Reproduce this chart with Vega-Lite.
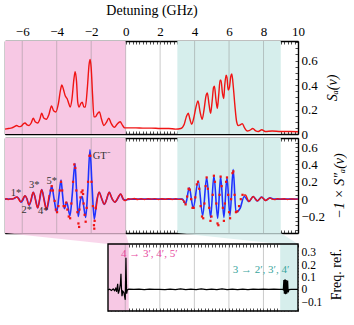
{
  "$schema": "https://vega.github.io/schema/vega-lite/v6.json",
  "padding": {"left": 1, "top": 3, "right": 0, "bottom": 0},
  "config": {
    "view": {"stroke": null},
    "font": "Liberation Serif, serif",
    "axis": {
      "domainColor": "#000", "domainWidth": 1.4,
      "tickColor": "#000", "tickWidth": 0.7, "tickSize": -3,
      "grid": false,
      "labelFont": "Liberation Serif, serif", "labelFontSize": 13, "labelColor": "#000",
      "titleFont": "Liberation Serif, serif", "titleFontSize": 14, "titleFontWeight": "normal", "titleColor": "#000",
      "zindex": 1, "labelOverlap": false, "labelFlush": false, "labelBound": false
    }
  },
  "datasets": {
    "regions": [{"r": "pink", "x": -7, "x2": 0}, {"r": "teal", "x": 3, "x2": 9}],
    "bregions": [{"r": "pink", "x": 0, "x2": 1.2}, {"r": "teal", "x": 9.97, "x2": 11}],
    "grid": [{"g": -6}, {"g": -4}, {"g": -2}, {"g": 0}, {"g": 2}, {"g": 4}, {"g": 6}, {"g": 8}],
    "bgrid": [{"g": 1}, {"g": 3}, {"g": 5}, {"g": 7}, {"g": 9}],
    "fans": [
      {"r": "pink", "y": 0.4586, "x": -5.963, "x2": 1.019}, {"r": "pink", "y": 0.37, "x": 0, "x2": 1.2},
      {"r": "teal", "y": 0.4586, "x": 4.015, "x2": 10.002}, {"r": "teal", "y": 0.37, "x": 9.97, "x2": 11}
    ],
    "top": [
      {"x": -7.0, "y": 0.04}, {"x": -6.8, "y": 0.045}, {"x": -6.6, "y": 0.05}, {"x": -6.45, "y": 0.06}, {"x": -6.32, "y": 0.07}, {"x": -6.2, "y": 0.06}, {"x": -6.05, "y": 0.065}, {"x": -5.92, "y": 0.085}, {"x": -5.84, "y": 0.09}, {"x": -5.72, "y": 0.075}, {"x": -5.6, "y": 0.07}, {"x": -5.48, "y": 0.09}, {"x": -5.36, "y": 0.13}, {"x": -5.25, "y": 0.1}, {"x": -5.1, "y": 0.09}, {"x": -4.98, "y": 0.12}, {"x": -4.87, "y": 0.17}, {"x": -4.75, "y": 0.13}, {"x": -4.6, "y": 0.12}, {"x": -4.45, "y": 0.16}, {"x": -4.3, "y": 0.23}, {"x": -4.18, "y": 0.19}, {"x": -4.05, "y": 0.18}, {"x": -3.9, "y": 0.25}, {"x": -3.78, "y": 0.36}, {"x": -3.7, "y": 0.4}, {"x": -3.6, "y": 0.36}, {"x": -3.5, "y": 0.31}, {"x": -3.4, "y": 0.29}, {"x": -3.3, "y": 0.25}, {"x": -3.22, "y": 0.22}, {"x": -3.12, "y": 0.28}, {"x": -3.0, "y": 0.45}, {"x": -2.93, "y": 0.51}, {"x": -2.85, "y": 0.43}, {"x": -2.78, "y": 0.26}, {"x": -2.7, "y": 0.22}, {"x": -2.6, "y": 0.25}, {"x": -2.52, "y": 0.26}, {"x": -2.42, "y": 0.22}, {"x": -2.34, "y": 0.22}, {"x": -2.22, "y": 0.38}, {"x": -2.12, "y": 0.57}, {"x": -2.06, "y": 0.61}, {"x": -2.0, "y": 0.54}, {"x": -1.92, "y": 0.32}, {"x": -1.84, "y": 0.14}, {"x": -1.76, "y": 0.14}, {"x": -1.62, "y": 0.17}, {"x": -1.52, "y": 0.18}, {"x": -1.4, "y": 0.12}, {"x": -1.26, "y": 0.07}, {"x": -1.1, "y": 0.1}, {"x": -0.98, "y": 0.13}, {"x": -0.85, "y": 0.09}, {"x": -0.65, "y": 0.055}, {"x": -0.5, "y": 0.08}, {"x": -0.32, "y": 0.1}, {"x": -0.18, "y": 0.07}, {"x": -0.05, "y": 0.05}, {"x": 0.2, "y": 0.05}, {"x": 0.6, "y": 0.05}, {"x": 1.0, "y": 0.048}, {"x": 1.5, "y": 0.048}, {"x": 2.0, "y": 0.045}, {"x": 2.5, "y": 0.045}, {"x": 2.9, "y": 0.04}, {"x": 3.2, "y": 0.045}, {"x": 3.4, "y": 0.08}, {"x": 3.52, "y": 0.14}, {"x": 3.63, "y": 0.17}, {"x": 3.73, "y": 0.12}, {"x": 3.83, "y": 0.08}, {"x": 3.95, "y": 0.13}, {"x": 4.08, "y": 0.22}, {"x": 4.2, "y": 0.27}, {"x": 4.32, "y": 0.18}, {"x": 4.44, "y": 0.12}, {"x": 4.55, "y": 0.2}, {"x": 4.66, "y": 0.31}, {"x": 4.74, "y": 0.335}, {"x": 4.84, "y": 0.24}, {"x": 4.93, "y": 0.17}, {"x": 5.02, "y": 0.27}, {"x": 5.1, "y": 0.38}, {"x": 5.15, "y": 0.39}, {"x": 5.24, "y": 0.28}, {"x": 5.32, "y": 0.21}, {"x": 5.4, "y": 0.32}, {"x": 5.48, "y": 0.44}, {"x": 5.53, "y": 0.44}, {"x": 5.62, "y": 0.33}, {"x": 5.69, "y": 0.29}, {"x": 5.75, "y": 0.4}, {"x": 5.83, "y": 0.48}, {"x": 5.88, "y": 0.46}, {"x": 5.95, "y": 0.36}, {"x": 6.02, "y": 0.38}, {"x": 6.1, "y": 0.47}, {"x": 6.16, "y": 0.49}, {"x": 6.25, "y": 0.38}, {"x": 6.34, "y": 0.23}, {"x": 6.44, "y": 0.1}, {"x": 6.53, "y": 0.07}, {"x": 6.65, "y": 0.075}, {"x": 6.77, "y": 0.085}, {"x": 6.9, "y": 0.05}, {"x": 7.05, "y": 0.025}, {"x": 7.2, "y": 0.03}, {"x": 7.38, "y": 0.045}, {"x": 7.55, "y": 0.025}, {"x": 7.7, "y": 0.02}, {"x": 7.9, "y": 0.035}, {"x": 8.1, "y": 0.02}, {"x": 8.5, "y": 0.025}, {"x": 9.0, "y": 0.02}, {"x": 9.5, "y": 0.02}, {"x": 10.0, "y": 0.018}
    ],
    "blue": [
      {"x": -7, "y": 0}, {"x": -6.5, "y": 0.005}, {"x": -6.38, "y": 0.02}, {"x": -6.3, "y": 0.025}, {"x": -6.18, "y": 0.0}, {"x": -6.07, "y": -0.035}, {"x": -5.96, "y": -0.01}, {"x": -5.84, "y": 0.04}, {"x": -5.72, "y": 0.0}, {"x": -5.6, "y": -0.07}, {"x": -5.48, "y": -0.01}, {"x": -5.36, "y": 0.08}, {"x": -5.23, "y": 0.0}, {"x": -5.1, "y": -0.1}, {"x": -4.98, "y": 0.0}, {"x": -4.87, "y": 0.11}, {"x": -4.73, "y": 0.0}, {"x": -4.58, "y": -0.12}, {"x": -4.44, "y": 0.0}, {"x": -4.29, "y": 0.15}, {"x": -4.15, "y": 0.0}, {"x": -4.0, "y": -0.15}, {"x": -3.88, "y": 0.02}, {"x": -3.75, "y": 0.22}, {"x": -3.66, "y": 0.05}, {"x": -3.56, "y": -0.11}, {"x": -3.42, "y": -0.035}, {"x": -3.23, "y": -0.19}, {"x": -3.1, "y": 0.05}, {"x": -2.94, "y": 0.41}, {"x": -2.85, "y": 0.1}, {"x": -2.75, "y": -0.2}, {"x": -2.63, "y": -0.02}, {"x": -2.52, "y": 0.03}, {"x": -2.42, "y": -0.1}, {"x": -2.32, "y": -0.21}, {"x": -2.2, "y": 0.1}, {"x": -2.07, "y": 0.57}, {"x": -1.95, "y": 0.15}, {"x": -1.82, "y": -0.23}, {"x": -1.68, "y": -0.02}, {"x": -1.53, "y": 0.08}, {"x": -1.38, "y": 0.0}, {"x": -1.24, "y": -0.06}, {"x": -1.1, "y": 0.0}, {"x": -0.95, "y": 0.08}, {"x": -0.78, "y": 0.0}, {"x": -0.62, "y": -0.035}, {"x": -0.45, "y": 0.01}, {"x": -0.29, "y": 0.06}, {"x": -0.15, "y": 0.0}, {"x": 0, "y": -0.01}, {"x": 0.3, "y": 0}, {"x": 3.3, "y": 0}, {"x": 3.48, "y": -0.054}, {"x": 3.69, "y": 0.13}, {"x": 3.92, "y": -0.1}, {"x": 4.21, "y": 0.21}, {"x": 4.47, "y": -0.19}, {"x": 4.7, "y": 0.25}, {"x": 4.93, "y": -0.21}, {"x": 5.12, "y": 0.27}, {"x": 5.34, "y": -0.22}, {"x": 5.51, "y": 0.26}, {"x": 5.7, "y": -0.21}, {"x": 5.88, "y": 0.25}, {"x": 6.05, "y": -0.19}, {"x": 6.24, "y": 0.34}, {"x": 6.4, "y": -0.15}, {"x": 6.63, "y": -0.11}, {"x": 6.88, "y": 0.03}, {"x": 7.15, "y": -0.027}, {"x": 7.4, "y": 0.03}, {"x": 7.64, "y": -0.02}, {"x": 7.89, "y": 0.023}, {"x": 8.12, "y": -0.015}, {"x": 8.37, "y": 0.015}, {"x": 8.6, "y": 0}, {"x": 10, "y": 0}
    ],
    "redline": [
      {"s": "a", "x": -7, "y": 0}, {"s": "a", "x": -6.9, "y": 0.005}, {"s": "a", "x": -6.8, "y": -0.005}, {"s": "a", "x": -6.7, "y": 0.003}, {"s": "a", "x": -6.6, "y": 0.0}, {"s": "a", "x": -6.5, "y": 0.008}, {"s": "a", "x": -6.4, "y": 0.02}, {"s": "a", "x": -6.32, "y": 0.025}, {"s": "a", "x": -6.22, "y": 0.005}, {"s": "a", "x": -6.1, "y": -0.03}, {"s": "a", "x": -6.02, "y": -0.02}, {"s": "a", "x": -5.92, "y": 0.02}, {"s": "a", "x": -5.84, "y": 0.04}, {"s": "a", "x": -5.74, "y": 0.01}, {"s": "a", "x": -5.62, "y": -0.065}, {"s": "a", "x": -5.52, "y": -0.03}, {"s": "a", "x": -5.44, "y": 0.04}, {"s": "a", "x": -5.36, "y": 0.08}, {"s": "a", "x": -5.28, "y": 0.04}, {"s": "a", "x": -5.18, "y": -0.06}, {"s": "a", "x": -5.1, "y": -0.1}, {"s": "a", "x": -5.02, "y": -0.03}, {"s": "a", "x": -4.94, "y": 0.07}, {"s": "a", "x": -4.87, "y": 0.11}, {"s": "a", "x": -4.8, "y": 0.06}, {"s": "a", "x": -4.7, "y": -0.05}, {"s": "a", "x": -4.6, "y": -0.12}, {"s": "a", "x": -4.52, "y": -0.06}, {"s": "a", "x": -4.44, "y": 0.05},
      {"s": "b", "x": -1.72, "y": -0.12}, {"s": "b", "x": -1.62, "y": 0.03}, {"s": "b", "x": -1.53, "y": 0.08}, {"s": "b", "x": -1.45, "y": 0.04}, {"s": "b", "x": -1.36, "y": -0.01}, {"s": "b", "x": -1.24, "y": -0.06}, {"s": "b", "x": -1.15, "y": -0.03}, {"s": "b", "x": -1.05, "y": 0.04}, {"s": "b", "x": -0.95, "y": 0.08}, {"s": "b", "x": -0.86, "y": 0.04}, {"s": "b", "x": -0.74, "y": -0.01}, {"s": "b", "x": -0.62, "y": -0.035}, {"s": "b", "x": -0.52, "y": -0.01}, {"s": "b", "x": -0.4, "y": 0.035}, {"s": "b", "x": -0.29, "y": 0.06}, {"s": "b", "x": -0.2, "y": 0.03}, {"s": "b", "x": -0.1, "y": -0.01}, {"s": "b", "x": 0.0, "y": -0.015}, {"s": "b", "x": 0.15, "y": 0.005}, {"s": "b", "x": 0.3, "y": 0.0}, {"s": "b", "x": 0.5, "y": 0.008}, {"s": "b", "x": 0.7, "y": -0.004}, {"s": "b", "x": 0.9, "y": 0.005}, {"s": "b", "x": 1.1, "y": -0.003}, {"s": "b", "x": 1.3, "y": 0.004}, {"s": "b", "x": 1.5, "y": 0.0}, {"s": "b", "x": 1.7, "y": 0.006}, {"s": "b", "x": 1.9, "y": -0.004}, {"s": "b", "x": 2.1, "y": 0.005}, {"s": "b", "x": 2.3, "y": -0.002}, {"s": "b", "x": 2.5, "y": 0.006}, {"s": "b", "x": 2.7, "y": -0.003}, {"s": "b", "x": 2.9, "y": 0.004}, {"s": "b", "x": 3.1, "y": -0.002}, {"s": "b", "x": 3.25, "y": 0.0}, {"s": "b", "x": 3.35, "y": -0.02},
      {"s": "c", "x": 6.85, "y": 0.045}, {"s": "c", "x": 6.95, "y": 0.05}, {"s": "c", "x": 7.05, "y": 0.01}, {"s": "c", "x": 7.15, "y": -0.027}, {"s": "c", "x": 7.27, "y": 0.0}, {"s": "c", "x": 7.4, "y": 0.03}, {"s": "c", "x": 7.52, "y": 0.005}, {"s": "c", "x": 7.64, "y": -0.02}, {"s": "c", "x": 7.76, "y": 0.0}, {"s": "c", "x": 7.89, "y": 0.023}, {"s": "c", "x": 8.0, "y": 0.005}, {"s": "c", "x": 8.12, "y": -0.015}, {"s": "c", "x": 8.25, "y": 0.0}, {"s": "c", "x": 8.37, "y": 0.015}, {"s": "c", "x": 8.5, "y": 0.0}, {"s": "c", "x": 8.65, "y": -0.005}, {"s": "c", "x": 8.8, "y": 0.005}, {"s": "c", "x": 9.0, "y": 0.0}, {"s": "c", "x": 9.2, "y": 0.004}, {"s": "c", "x": 9.4, "y": -0.003}, {"s": "c", "x": 9.6, "y": 0.003}, {"s": "c", "x": 9.8, "y": 0.0}, {"s": "c", "x": 10.0, "y": 0.0}
    ],
    "redpts": [
      {"x": -4.35, "y": 0.1}, {"x": -4.29, "y": 0.15}, {"x": -4.22, "y": 0.1}, {"x": -4.12, "y": -0.02}, {"x": -4.05, "y": -0.12}, {"x": -3.98, "y": -0.15}, {"x": -3.9, "y": -0.08}, {"x": -3.82, "y": 0.1}, {"x": -3.75, "y": 0.2}, {"x": -3.68, "y": 0.1}, {"x": -3.6, "y": -0.08}, {"x": -3.52, "y": -0.08}, {"x": -3.45, "y": -0.04}, {"x": -3.38, "y": -0.12}, {"x": -3.3, "y": -0.2}, {"x": -3.22, "y": -0.22}, {"x": -3.15, "y": -0.05}, {"x": -3.05, "y": 0.2}, {"x": -2.98, "y": 0.4}, {"x": -2.92, "y": 0.36}, {"x": -2.86, "y": 0.1}, {"x": -2.8, "y": -0.15}, {"x": -2.74, "y": -0.28}, {"x": -2.7, "y": -0.32}, {"x": -2.68, "y": -0.12}, {"x": -2.62, "y": 0.02}, {"x": -2.56, "y": 0.08}, {"x": -2.5, "y": 0.1}, {"x": -2.47, "y": 0.06}, {"x": -2.44, "y": -0.05}, {"x": -2.38, "y": -0.18}, {"x": -2.32, "y": -0.26}, {"x": -2.26, "y": -0.1}, {"x": -2.18, "y": 0.2}, {"x": -2.1, "y": 0.5}, {"x": -2.05, "y": 0.5}, {"x": -1.98, "y": 0.2}, {"x": -1.9, "y": -0.08}, {"x": -1.84, "y": -0.3}, {"x": -1.82, "y": -0.34}, {"x": -1.8, "y": -0.25}, {"x": -1.74, "y": -0.1},
      {"x": 3.4, "y": -0.03}, {"x": 3.48, "y": -0.06}, {"x": 3.57, "y": 0.03}, {"x": 3.65, "y": 0.12}, {"x": 3.72, "y": 0.11}, {"x": 3.8, "y": 0.0}, {"x": 3.88, "y": -0.1}, {"x": 3.95, "y": -0.1}, {"x": 4.04, "y": 0.02}, {"x": 4.13, "y": 0.17}, {"x": 4.2, "y": 0.2}, {"x": 4.27, "y": 0.12}, {"x": 4.35, "y": -0.08}, {"x": 4.43, "y": -0.2}, {"x": 4.5, "y": -0.22}, {"x": 4.57, "y": -0.05}, {"x": 4.64, "y": 0.15}, {"x": 4.7, "y": 0.25}, {"x": 4.77, "y": 0.12}, {"x": 4.85, "y": -0.1}, {"x": 4.92, "y": -0.25}, {"x": 4.98, "y": -0.2}, {"x": 5.05, "y": 0.05}, {"x": 5.12, "y": 0.27}, {"x": 5.18, "y": 0.2}, {"x": 5.26, "y": -0.05}, {"x": 5.33, "y": -0.28}, {"x": 5.38, "y": -0.3}, {"x": 5.45, "y": 0.05}, {"x": 5.51, "y": 0.26}, {"x": 5.57, "y": 0.15}, {"x": 5.64, "y": -0.1}, {"x": 5.7, "y": -0.25}, {"x": 5.76, "y": -0.05}, {"x": 5.83, "y": 0.2}, {"x": 5.88, "y": 0.25}, {"x": 5.95, "y": 0.05}, {"x": 6.0, "y": -0.15}, {"x": 6.06, "y": -0.22}, {"x": 6.12, "y": 0.0}, {"x": 6.2, "y": 0.3}, {"x": 6.25, "y": 0.32}, {"x": 6.32, "y": 0.05}, {"x": 6.4, "y": -0.15}, {"x": 6.48, "y": -0.14}, {"x": 6.58, "y": -0.08}, {"x": 6.68, "y": 0.0}, {"x": 6.78, "y": 0.05}
    ],
    "mlabels": [
      {"t": "1*", "x": -6.36, "y": 0.07}, {"t": "2*", "x": -5.74, "y": -0.12}, {"t": "3*", "x": -5.3, "y": 0.165},
      {"t": "4*", "x": -4.78, "y": -0.14}, {"t": "5*", "x": -4.29, "y": 0.215}, {"t": "GT⁻", "x": -1.39, "y": 0.5}
    ],
    "freq": [
      {"x": 0, "y": 0.0}, {"x": 0.1, "y": 0.006}, {"x": 0.2, "y": -0.004}, {"x": 0.3, "y": 0.008}, {"x": 0.38, "y": -0.006}, {"x": 0.45, "y": 0.012}, {"x": 0.5, "y": -0.015}, {"x": 0.56, "y": 0.05}, {"x": 0.6, "y": -0.03}, {"x": 0.66, "y": 0.0}, {"x": 0.72, "y": 0.05}, {"x": 0.75, "y": 0.13}, {"x": 0.78, "y": 0.01}, {"x": 0.81, "y": -0.05}, {"x": 0.86, "y": -0.01}, {"x": 0.92, "y": -0.02}, {"x": 0.97, "y": -0.06}, {"x": 1.0, "y": -0.08}, {"x": 1.02, "y": 0.1}, {"x": 1.04, "y": 0.26}, {"x": 1.06, "y": 0.1}, {"x": 1.08, "y": -0.03}, {"x": 1.12, "y": 0.0}, {"x": 1.2, "y": 0.006}, {"x": 1.5, "y": 0.004}, {"x": 1.8, "y": 0.006}, {"x": 2.1, "y": 0.003}, {"x": 2.4, "y": 0.006}, {"x": 2.7, "y": 0.004}, {"x": 3.0, "y": 0.005}, {"x": 3.3, "y": 0.003}, {"x": 3.6, "y": 0.007}, {"x": 3.9, "y": 0.003}, {"x": 4.2, "y": 0.008}, {"x": 4.5, "y": 0.002}, {"x": 4.8, "y": 0.007}, {"x": 5.1, "y": 0.003}, {"x": 5.4, "y": 0.008}, {"x": 5.7, "y": 0.002}, {"x": 6.0, "y": 0.007}, {"x": 6.3, "y": 0.003}, {"x": 6.6, "y": 0.008}, {"x": 6.9, "y": 0.002}, {"x": 7.2, "y": 0.007}, {"x": 7.5, "y": 0.003}, {"x": 7.8, "y": 0.006}, {"x": 8.1, "y": 0.003}, {"x": 8.4, "y": 0.006}, {"x": 8.7, "y": 0.004}, {"x": 9.0, "y": 0.006}, {"x": 9.3, "y": 0.004}, {"x": 9.6, "y": 0.006}, {"x": 9.9, "y": 0.004}, {"x": 10.1, "y": 0.005}, {"x": 10.15, "y": 0.0}, {"x": 10.18, "y": 0.08}, {"x": 10.21, "y": -0.03}, {"x": 10.25, "y": 0.085}, {"x": 10.28, "y": -0.035}, {"x": 10.32, "y": 0.08}, {"x": 10.35, "y": -0.03}, {"x": 10.4, "y": 0.075}, {"x": 10.43, "y": -0.02}, {"x": 10.48, "y": 0.003}, {"x": 10.6, "y": 0.005}, {"x": 10.8, "y": 0.004}, {"x": 11, "y": 0.005}
    ],
    "annotL": [{"t": "4 → 3′, 4′, 5′", "x": 0.75, "y": 0.29}],
    "annotR": [{"t": "3 → 2′, 3′, 4′", "x": 10.5, "y": 0.16}],
    "one": [{"a": 1}]
  },
  "bounds": "flush",
  "spacing": 4,
  "vconcat": [
    {
      "width": 293, "height": 93,
      "resolve": {"axis": {"x": "independent", "y": "independent"}},
      "layer": [
        {"data": {"name": "regions"}, "mark": {"type": "rect"},
         "encoding": {
           "x": {"field": "x", "type": "quantitative", "scale": {"domain": [-7, 10], "nice": false, "zero": false}, "axis": null},
           "x2": {"field": "x2"},
           "color": {"field": "r", "type": "nominal", "scale": {"domain": ["pink", "teal"], "range": ["#f7c8e4", "#d6eeec"]}, "legend": null}
         }},
        {"data": {"name": "grid"}, "mark": {"type": "rule", "color": "#888888", "strokeWidth": 0.8, "opacity": 0.55},
         "encoding": {
           "x": {"field": "g", "type": "quantitative", "scale": {"domain": [-7, 10], "nice": false, "zero": false}, "axis": null}
         }},
        {"data": {"name": "top"}, "mark": {"type": "line", "color": "#f01414", "strokeWidth": 1.4, "interpolate": "monotone"},
         "encoding": {
           "x": {"field": "x", "type": "quantitative", "scale": {"domain": [-7, 10], "nice": false, "zero": false},
                 "axis": {"orient": "top", "title": "Detuning (GHz)", "titlePadding": 8, "labelPadding": 6, "format": ".0f",
                          "values": [-7,-6.8,-6.6,-6.4,-6.2,-6,-5.8,-5.6,-5.4,-5.2,-5,-4.8,-4.6,-4.4,-4.2,-4,-3.8,-3.6,-3.4,-3.2,-3,-2.8,-2.6,-2.4,-2.2,-2,-1.8,-1.6,-1.4,-1.2,-1,-0.8,-0.6,-0.4,-0.2,0,0.2,0.4,0.6,0.8,1,1.2,1.4,1.6,1.8,2,2.2,2.4,2.6,2.8,3,3.2,3.4,3.6,3.8,4,4.2,4.4,4.6,4.8,5,5.2,5.4,5.6,5.8,6,6.2,6.4,6.6,6.8,7,7.2,7.4,7.6,7.8,8,8.2,8.4,8.6,8.8,9,9.2,9.4,9.6,9.8,10],
                          "labelExpr": "(abs(datum.value/2 - round(datum.value/2)) < 0.001) && (datum.value > -6.5) ? datum.label : ''"}},
           "y": {"field": "y", "type": "quantitative", "scale": {"domain": [0, 0.76], "nice": false, "zero": false},
                 "axis": {"orient": "right", "title": "Sₐ(ν)", "titleAngle": 270, "titleBaseline": "top", "titleFontStyle": "italic", "titlePadding": 8, "labelPadding": 6, "format": ".1~f",
                          "values": [0,0.05,0.1,0.15,0.2,0.25,0.3,0.35,0.4,0.45,0.5,0.55,0.6,0.65,0.7,0.75],
                          "labelExpr": "abs(datum.value*5 - round(datum.value*5)) < 0.001 ? datum.label : ''"}}
         }},
        {"data": {"name": "top"}, "mark": {"type": "point", "opacity": 0},
         "encoding": {
           "x": {"field": "x", "type": "quantitative", "scale": {"domain": [-7, 10], "nice": false, "zero": false},
                 "axis": {"orient": "bottom", "labels": false, "title": null,
                          "values": [-7,-6.8,-6.6,-6.4,-6.2,-6,-5.8,-5.6,-5.4,-5.2,-5,-4.8,-4.6,-4.4,-4.2,-4,-3.8,-3.6,-3.4,-3.2,-3,-2.8,-2.6,-2.4,-2.2,-2,-1.8,-1.6,-1.4,-1.2,-1,-0.8,-0.6,-0.4,-0.2,0,0.2,0.4,0.6,0.8,1,1.2,1.4,1.6,1.8,2,2.2,2.4,2.6,2.8,3,3.2,3.4,3.6,3.8,4,4.2,4.4,4.6,4.8,5,5.2,5.4,5.6,5.8,6,6.2,6.4,6.6,6.8,7,7.2,7.4,7.6,7.8,8,8.2,8.4,8.6,8.8,9,9.2,9.4,9.6,9.8,10]}},
           "y": {"field": "y", "type": "quantitative", "scale": {"domain": [0, 0.76], "nice": false, "zero": false},
                 "axis": {"orient": "left", "labels": false, "title": null,
                          "values": [0,0.05,0.1,0.15,0.2,0.25,0.3,0.35,0.4,0.45,0.5,0.55,0.6,0.65,0.7,0.75]}}
         }}
      ]
    },
    {
      "width": 293, "height": 95,
      "resolve": {"axis": {"x": "independent", "y": "independent"}},
      "layer": [
        {"data": {"name": "regions"}, "mark": {"type": "rect"},
         "encoding": {
           "x": {"field": "x", "type": "quantitative", "scale": {"domain": [-7, 10], "nice": false, "zero": false}, "axis": null},
           "x2": {"field": "x2"},
           "color": {"field": "r", "type": "nominal", "scale": {"domain": ["pink", "teal"], "range": ["#f7c8e4", "#d6eeec"]}, "legend": null}
         }},
        {"data": {"name": "grid"}, "mark": {"type": "rule", "color": "#888888", "strokeWidth": 0.8, "opacity": 0.55},
         "encoding": {
           "x": {"field": "g", "type": "quantitative", "scale": {"domain": [-7, 10], "nice": false, "zero": false}, "axis": null}
         }},
        {"data": {"name": "blue"}, "mark": {"type": "line", "color": "#1e32ff", "strokeWidth": 1.6, "interpolate": "monotone"},
         "encoding": {
           "x": {"field": "x", "type": "quantitative", "scale": {"domain": [-7, 10], "nice": false, "zero": false},
                 "axis": {"orient": "top", "labels": false, "title": null,
                          "values": [-7,-6.8,-6.6,-6.4,-6.2,-6,-5.8,-5.6,-5.4,-5.2,-5,-4.8,-4.6,-4.4,-4.2,-4,-3.8,-3.6,-3.4,-3.2,-3,-2.8,-2.6,-2.4,-2.2,-2,-1.8,-1.6,-1.4,-1.2,-1,-0.8,-0.6,-0.4,-0.2,0,0.2,0.4,0.6,0.8,1,1.2,1.4,1.6,1.8,2,2.2,2.4,2.6,2.8,3,3.2,3.4,3.6,3.8,4,4.2,4.4,4.6,4.8,5,5.2,5.4,5.6,5.8,6,6.2,6.4,6.6,6.8,7,7.2,7.4,7.6,7.8,8,8.2,8.4,8.6,8.8,9,9.2,9.4,9.6,9.8,10]}},
           "y": {"field": "y", "type": "quantitative", "scale": {"domain": [-0.39, 0.705], "nice": false, "zero": false},
                 "axis": {"orient": "right", "title": "−1 × S″ₐ(ν)", "titleAngle": 270, "titleBaseline": "top", "titleFontStyle": "italic", "titlePadding": 8, "labelPadding": 6, "format": ".1~f",
                          "values": [-0.35,-0.3,-0.25,-0.2,-0.15,-0.1,-0.05,0,0.05,0.1,0.15,0.2,0.25,0.3,0.35,0.4,0.45,0.5,0.55,0.6,0.65,0.7],
                          "labelExpr": "abs(datum.value*5 - round(datum.value*5)) < 0.001 ? datum.label : ''"}}
         }},
        {"data": {"name": "redline"}, "mark": {"type": "line", "color": "#f01414", "strokeWidth": 1.4, "interpolate": "monotone"},
         "encoding": {
           "x": {"field": "x", "type": "quantitative", "scale": {"domain": [-7, 10], "nice": false, "zero": false}, "axis": null},
           "y": {"field": "y", "type": "quantitative", "scale": {"domain": [-0.39, 0.705], "nice": false, "zero": false}, "axis": null},
           "detail": {"field": "s", "type": "nominal"}
         }},
        {"data": {"name": "redpts"}, "mark": {"type": "point", "shape": "square", "filled": true, "size": 5, "color": "#f01414", "opacity": 1},
         "encoding": {
           "x": {"field": "x", "type": "quantitative", "scale": {"domain": [-7, 10], "nice": false, "zero": false},
                 "axis": {"orient": "bottom", "labels": false, "title": null,
                          "values": [-7,-6.8,-6.6,-6.4,-6.2,-6,-5.8,-5.6,-5.4,-5.2,-5,-4.8,-4.6,-4.4,-4.2,-4,-3.8,-3.6,-3.4,-3.2,-3,-2.8,-2.6,-2.4,-2.2,-2,-1.8,-1.6,-1.4,-1.2,-1,-0.8,-0.6,-0.4,-0.2,0,0.2,0.4,0.6,0.8,1,1.2,1.4,1.6,1.8,2,2.2,2.4,2.6,2.8,3,3.2,3.4,3.6,3.8,4,4.2,4.4,4.6,4.8,5,5.2,5.4,5.6,5.8,6,6.2,6.4,6.6,6.8,7,7.2,7.4,7.6,7.8,8,8.2,8.4,8.6,8.8,9,9.2,9.4,9.6,9.8,10]}},
           "y": {"field": "y", "type": "quantitative", "scale": {"domain": [-0.39, 0.705], "nice": false, "zero": false},
                 "axis": {"orient": "left", "labels": false, "title": null,
                          "values": [-0.35,-0.3,-0.25,-0.2,-0.15,-0.1,-0.05,0,0.05,0.1,0.15,0.2,0.25,0.3,0.35,0.4,0.45,0.5,0.55,0.6,0.65,0.7]}}
         }},
        {"data": {"name": "mlabels"}, "mark": {"type": "text", "font": "Liberation Serif, serif", "fontSize": 10.5, "color": "#333333"},
         "encoding": {
           "x": {"field": "x", "type": "quantitative", "scale": {"domain": [-7, 10], "nice": false, "zero": false}, "axis": null},
           "y": {"field": "y", "type": "quantitative", "scale": {"domain": [-0.39, 0.705], "nice": false, "zero": false}, "axis": null},
           "text": {"field": "t"}
         }}
      ]
    },
    {
      "width": 293, "height": 74,
      "resolve": {"axis": {"x": "independent", "y": "independent"}},
      "layer": [
        {"data": {"name": "bregions"}, "mark": {"type": "rect"},
         "encoding": {
           "x": {"field": "x", "type": "quantitative", "scale": {"domain": [-5.963, 11], "nice": false, "zero": false}, "axis": null},
           "x2": {"field": "x2"},
           "y": {"datum": -0.17, "type": "quantitative", "scale": {"domain": [-0.17, 0.4264], "nice": false, "zero": false}, "axis": null},
           "y2": {"datum": 0.37},
           "color": {"field": "r", "type": "nominal", "scale": {"domain": ["pink", "teal"], "range": ["#f7c8e4", "#d6eeec"]}, "legend": null}
         }},
        {"data": {"name": "fans"}, "mark": {"type": "area", "orient": "horizontal", "opacity": 0.75},
         "encoding": {
           "y": {"field": "y", "type": "quantitative", "scale": {"domain": [-0.17, 0.4264], "nice": false, "zero": false}, "axis": null},
           "x": {"field": "x", "type": "quantitative", "scale": {"domain": [-5.963, 11], "nice": false, "zero": false}, "axis": null},
           "x2": {"field": "x2"},
           "color": {"field": "r", "type": "nominal", "scale": {"domain": ["pink", "teal"], "range": ["#f7c8e4", "#d6eeec"]}, "legend": null},
           "detail": {"field": "r", "type": "nominal"}
         }},
        {"data": {"name": "bgrid"}, "mark": {"type": "rule", "color": "#888888", "strokeWidth": 0.8, "opacity": 0.55},
         "encoding": {
           "x": {"field": "g", "type": "quantitative", "scale": {"domain": [-5.963, 11], "nice": false, "zero": false}, "axis": null},
           "y": {"datum": -0.17, "type": "quantitative", "scale": {"domain": [-0.17, 0.4264], "nice": false, "zero": false}, "axis": null},
           "y2": {"datum": 0.37}
         }},
        {"data": {"name": "freq"}, "mark": {"type": "line", "color": "#000000", "strokeWidth": 1.2},
         "encoding": {
           "x": {"field": "x", "type": "quantitative", "scale": {"domain": [-5.963, 11], "nice": false, "zero": false},
                 "axis": {"orient": "top", "labels": false, "title": null, "domain": false, "offset": -7,
                          "values": [0,0.2,0.4,0.6,0.8,1,1.2,1.4,1.6,1.8,2,2.2,2.4,2.6,2.8,3,3.2,3.4,3.6,3.8,4,4.2,4.4,4.6,4.8,5,5.2,5.4,5.6,5.8,6,6.2,6.4,6.6,6.8,7,7.2,7.4,7.6,7.8,8,8.2,8.4,8.6,8.8,9,9.2,9.4,9.6,9.8,10,10.2,10.4,10.6,10.8,11]}},
           "y": {"field": "y", "type": "quantitative", "scale": {"domain": [-0.17, 0.4264], "nice": false, "zero": false},
                 "axis": {"orient": "right", "title": "Freq. ref.", "titleAngle": 270, "titleBaseline": "top", "titlePadding": 8, "labelPadding": 6, "labelFontSize": 11.5, "format": ".1~f", "domain": false,
                          "values": [-0.15,-0.125,-0.1,-0.075,-0.05,-0.025,0,0.025,0.05,0.075,0.1,0.125,0.15,0.175,0.2,0.225,0.25,0.275,0.3,0.325,0.35],
                          "labelExpr": "abs(datum.value*10 - round(datum.value*10)) < 0.001 ? datum.label : ''"}}
         }},
        {"data": {"name": "one"}, "mark": {"type": "rect", "fill": "transparent", "stroke": "#000000", "strokeWidth": 1.4},
         "encoding": {
           "x": {"datum": 0, "type": "quantitative", "scale": {"domain": [-5.963, 11], "nice": false, "zero": false}, "axis": null},
           "x2": {"datum": 11},
           "y": {"datum": -0.17, "type": "quantitative", "scale": {"domain": [-0.17, 0.4264], "nice": false, "zero": false}, "axis": null},
           "y2": {"datum": 0.37}
         }},
        {"data": {"name": "annotL"}, "mark": {"type": "text", "align": "left", "font": "Liberation Serif, serif", "fontSize": 11, "color": "#e6489e"},
         "encoding": {
           "x": {"field": "x", "type": "quantitative", "scale": {"domain": [-5.963, 11], "nice": false, "zero": false},
                 "axis": {"orient": "bottom", "labels": false, "title": null, "domain": false,
                          "values": [0,0.2,0.4,0.6,0.8,1,1.2,1.4,1.6,1.8,2,2.2,2.4,2.6,2.8,3,3.2,3.4,3.6,3.8,4,4.2,4.4,4.6,4.8,5,5.2,5.4,5.6,5.8,6,6.2,6.4,6.6,6.8,7,7.2,7.4,7.6,7.8,8,8.2,8.4,8.6,8.8,9,9.2,9.4,9.6,9.8,10,10.2,10.4,10.6,10.8,11]}},
           "y": {"field": "y", "type": "quantitative", "scale": {"domain": [-0.17, 0.4264], "nice": false, "zero": false},
                 "axis": {"orient": "left", "labels": false, "title": null, "domain": false, "offset": -103,
                          "values": [-0.15,-0.125,-0.1,-0.075,-0.05,-0.025,0,0.025,0.05,0.075,0.1,0.125,0.15,0.175,0.2,0.225,0.25,0.275,0.3,0.325,0.35]}},
           "text": {"field": "t"}
         }},
        {"data": {"name": "annotR"}, "mark": {"type": "text", "align": "right", "font": "Liberation Serif, serif", "fontSize": 11, "color": "#3aa59d"},
         "encoding": {
           "x": {"field": "x", "type": "quantitative", "scale": {"domain": [-5.963, 11], "nice": false, "zero": false}, "axis": null},
           "y": {"field": "y", "type": "quantitative", "scale": {"domain": [-0.17, 0.4264], "nice": false, "zero": false}, "axis": null},
           "text": {"field": "t"}
         }}
      ]
    }
  ]
}
